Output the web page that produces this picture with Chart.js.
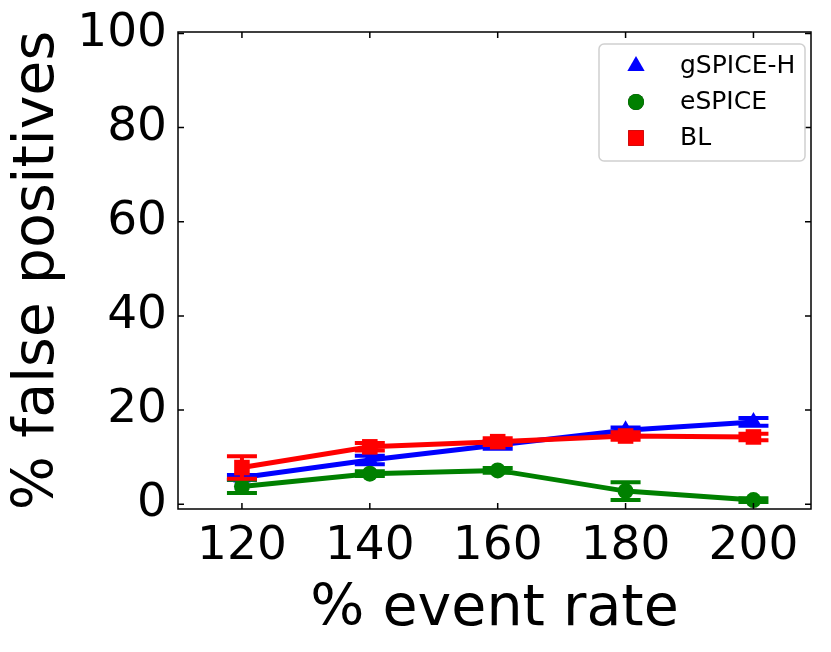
<!DOCTYPE html>
<html>
<head>
<meta charset="utf-8">
<script src="https://cdn.jsdelivr.net/npm/chart.js@4/dist/chart.umd.min.js"></script>
<style>
  html, body { margin: 0; padding: 0; background: #fff; }
  #wrap { width: 831px; height: 652px; }
</style>
</head>
<body>
<div id="wrap"><canvas id="myChart" width="831" height="652"></canvas></div>
<script>
// data
var eventRates = [120, 140, 160, 180, 200];
var gspiceH = [5.7, 9.4, 12.6, 15.7, 17.5];
var gspiceHErr = [0.5, 0.9, 0.8, 0.6, 0.8];
var espice = [3.8, 6.5, 7.2, 2.8, 0.9];
var espiceErr = [1.4, 0.5, 0.5, 1.9, 0.4];
var bl = [7.8, 12.2, 13.3, 14.5, 14.3];
var blErr = [2.4, 0.8, 0.7, 0.8, 0.7];
var xTicks = [120, 140, 160, 180, 200];
var yTicks = [0, 20, 40, 60, 80, 100];

function points(vals) {
  return eventRates.map(function (x, i) { return {x: x, y: vals[i]}; });
}

var font = "'DejaVu Sans', sans-serif";

// error bars with caps, drawn right after each dataset so layering matches
var errorBars = {
  id: 'errorBars',
  afterDatasetDraw: function (chart, args) {
    var ds = chart.data.datasets[args.index];
    var y = chart.scales.y;
    var ctx = chart.ctx;
    ctx.save();
    ctx.strokeStyle = ds.borderColor;
    ctx.lineWidth = 4;
    args.meta.data.forEach(function (pt, i) {
      var v = ds.data[i].y, e = ds.errors[i];
      var top = y.getPixelForValue(v + e), bot = y.getPixelForValue(v - e);
      ctx.beginPath();
      ctx.moveTo(pt.x, top); ctx.lineTo(pt.x, bot);
      ctx.moveTo(pt.x - 15, top); ctx.lineTo(pt.x + 15, top);
      ctx.moveTo(pt.x - 15, bot); ctx.lineTo(pt.x + 15, bot);
      ctx.stroke();
    });
    ctx.restore();
  }
};

// full box with inward ticks on all four sides
var frame = {
  id: 'frame',
  afterDraw: function (chart) {
    var a = chart.chartArea, ctx = chart.ctx;
    var xs = chart.scales.x, ys = chart.scales.y;
    ctx.save();
    ctx.strokeStyle = '#000';
    ctx.lineWidth = 1.5;
    ctx.strokeRect(a.left, a.top, a.right - a.left, a.bottom - a.top);
    ctx.beginPath();
    xTicks.forEach(function (t) {
      var px = xs.getPixelForValue(t);
      ctx.moveTo(px, a.bottom); ctx.lineTo(px, a.bottom - 6);
      ctx.moveTo(px, a.top); ctx.lineTo(px, a.top + 6);
    });
    yTicks.forEach(function (t) {
      var py = ys.getPixelForValue(t);
      ctx.moveTo(a.left, py); ctx.lineTo(a.left + 6, py);
      ctx.moveTo(a.right, py); ctx.lineTo(a.right - 6, py);
    });
    ctx.stroke();
    ctx.restore();
  }
};

// legend inside the upper right corner
var boxLegend = {
  id: 'boxLegend',
  afterDraw: function (chart) {
    var a = chart.chartArea, ctx = chart.ctx;
    var w = 206, h = 117;
    var bx = a.right - 6 - w, by = a.top + 12;
    ctx.save();
    ctx.beginPath();
    ctx.roundRect(bx, by, w, h, 5);
    ctx.fillStyle = 'rgba(255,255,255,0.8)';
    ctx.fill();
    ctx.strokeStyle = '#d0d0d0';
    ctx.lineWidth = 1.5;
    ctx.stroke();
    [0, 1, 2].forEach(function (di, row) {
      var ds = chart.data.datasets[di];
      var cy = by + 22 + row * 36;
      Chart.helpers.drawPoint(ctx, {
        pointStyle: ds.pointStyle, radius: ds.pointRadius, borderWidth: 0
      }, bx + 37, cy);
      ctx.fillStyle = ds.backgroundColor;
      ctx.fill();
      ctx.fillStyle = '#000';
      ctx.font = '25px ' + font;
      ctx.textBaseline = 'middle';
      ctx.fillText(ds.label, bx + 81, cy);
    });
    ctx.restore();
  }
};

var ctx = document.getElementById('myChart').getContext('2d');
var chart = new Chart(ctx, {
  type: 'line',
  data: {
    datasets: [{
      label: 'gSPICE-H',
      data: points(gspiceH),
      errors: gspiceHErr,
      borderColor: '#0000ff',
      backgroundColor: '#0000ff',
      pointStyle: 'triangle',
      pointRadius: 10,
      order: 3
    }, {
      label: 'eSPICE',
      data: points(espice),
      errors: espiceErr,
      borderColor: '#008000',
      backgroundColor: '#008000',
      pointStyle: 'circle',
      pointRadius: 8,
      order: 2
    }, {
      label: 'BL',
      data: points(bl),
      errors: blErr,
      borderColor: '#ff0000',
      backgroundColor: '#ff0000',
      pointStyle: 'rect',
      pointRadius: 11,
      order: 1
    }]
  },
  options: {
    responsive: false,
    animation: false,
    layout: { padding: { top: 32, right: 20, left: 0, bottom: 0 } },
    elements: {
      line: { borderWidth: 5, tension: 0, fill: false },
      point: { borderWidth: 0, hoverRadius: 8 }
    },
    plugins: { legend: { display: false }, tooltip: { enabled: false } },
    scales: {
      x: {
        type: 'linear',
        min: 110,
        max: 209,
        afterBuildTicks: function (s) { s.ticks = xTicks.map(function (v) { return {value: v}; }); },
        afterFit: function (s) { s.height = 143; s.paddingLeft = 0; s.paddingRight = 0; },
        grid: { display: false, drawTicks: false, tickLength: 0 },
        border: { display: false },
        ticks: { color: '#000', font: { family: font, size: 47 }, padding: 10, maxRotation: 0 },
        title: { display: true, text: '% event rate', color: '#000',
                 font: { family: font, size: 57 }, padding: { top: 0, bottom: 8 } }
      },
      y: {
        min: -1,
        max: 100.3,
        afterBuildTicks: function (s) { s.ticks = yTicks.map(function (v) { return {value: v}; }); },
        afterFit: function (s) { s.width = 178; s.paddingTop = 0; s.paddingBottom = 0; },
        grid: { display: false, drawTicks: false, tickLength: 0 },
        border: { display: false },
        ticks: { color: '#000', font: { family: font, size: 47 }, padding: 11 },
        title: { display: true, text: '% false positives', color: '#000',
                 font: { family: font, size: 57 }, padding: { top: 4, bottom: 0 } }
      }
    }
  },
  plugins: [errorBars, frame, boxLegend]
});
</script>
</body>
</html>
